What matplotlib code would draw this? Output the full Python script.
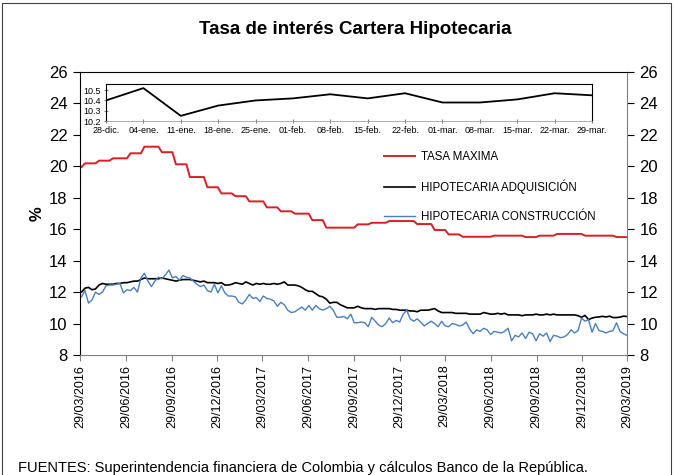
import matplotlib.pyplot as plt
import matplotlib.dates as mdates
import pandas as pd
from matplotlib.patches import Rectangle

# Weekly series (Fridays), 01/04/2016 .. 29/03/2019
tasa_maxima = [
    19.95, 20.19, 20.19, 20.19, 20.19, 20.36, 20.36, 20.36, 20.36, 20.51, 20.51, 20.51, 20.51,
    20.51, 20.83, 20.83, 20.83, 20.83, 21.25, 21.25, 21.25, 21.25, 21.25, 20.90, 20.90, 20.90,
    20.90, 20.13, 20.13, 20.13, 20.13, 19.32, 19.32, 19.32, 19.32, 19.32, 18.67, 18.67, 18.67,
    18.67, 18.28, 18.28, 18.28, 18.28, 18.10, 18.10, 18.10, 18.10, 17.77, 17.77, 17.77, 17.77,
    17.77, 17.39, 17.39, 17.39, 17.39, 17.14, 17.14, 17.14, 17.14, 16.99, 16.99, 16.99, 16.99,
    16.99, 16.58, 16.58, 16.58, 16.58, 16.10, 16.10, 16.10, 16.10, 16.10, 16.10, 16.10, 16.10,
    16.10, 16.31, 16.31, 16.31, 16.31, 16.41, 16.41, 16.41, 16.41, 16.41, 16.52, 16.52, 16.52,
    16.52, 16.52, 16.52, 16.52, 16.52, 16.33, 16.33, 16.33, 16.33, 16.33, 15.95, 15.95, 15.95,
    15.95, 15.67, 15.67, 15.67, 15.67, 15.52, 15.52, 15.52, 15.52, 15.52, 15.52, 15.52, 15.52,
    15.52, 15.59, 15.59, 15.59, 15.59, 15.59, 15.59, 15.59, 15.59, 15.59, 15.50, 15.50, 15.50,
    15.50, 15.59, 15.59, 15.59, 15.59, 15.59, 15.70, 15.70, 15.70, 15.70, 15.70, 15.70, 15.70,
    15.70, 15.59, 15.59, 15.59, 15.59, 15.59, 15.59, 15.59, 15.59, 15.59, 15.50, 15.50, 15.50,
    15.50,
]

hipotecaria_adquisicion = [
    12.00, 12.25, 12.30, 12.15, 12.20, 12.45, 12.55, 12.50, 12.50, 12.50, 12.55, 12.55, 12.60,
    12.60, 12.65, 12.70, 12.70, 12.80, 12.90, 12.85, 12.85, 12.85, 12.85, 12.90, 12.85, 12.80,
    12.75, 12.70, 12.75, 12.80, 12.80, 12.80, 12.75, 12.70, 12.65, 12.70, 12.60, 12.60, 12.60,
    12.55, 12.60, 12.45, 12.45, 12.50, 12.60, 12.55, 12.50, 12.65, 12.55, 12.45, 12.55, 12.50,
    12.55, 12.50, 12.50, 12.55, 12.50, 12.55, 12.65, 12.45, 12.45, 12.45, 12.40, 12.30, 12.15,
    12.05, 12.05, 11.90, 11.75, 11.70, 11.55, 11.30, 11.35, 11.35, 11.20, 11.10, 11.00, 11.00,
    11.00, 11.10, 11.00, 10.95, 10.95, 10.95, 10.90, 10.95, 10.95, 10.95, 10.95, 10.90, 10.90,
    10.85, 10.85, 10.85, 10.80, 10.80, 10.75, 10.85, 10.85, 10.85, 10.90, 10.95, 10.80, 10.70,
    10.70, 10.70, 10.70, 10.65, 10.65, 10.65, 10.65, 10.60, 10.60, 10.60, 10.60, 10.70, 10.65,
    10.60, 10.60, 10.65, 10.60, 10.65, 10.55, 10.55, 10.55, 10.55, 10.50, 10.55, 10.55, 10.55,
    10.60, 10.55, 10.55, 10.60, 10.55, 10.60, 10.55, 10.55, 10.55, 10.55, 10.55, 10.55, 10.50,
    10.40, 10.52, 10.25, 10.35, 10.40, 10.42, 10.46, 10.42, 10.47, 10.38, 10.38, 10.41, 10.47,
    10.45,
]

hipotecaria_construccion = [
    11.70, 12.10, 11.30, 11.50, 12.00, 11.85, 12.00, 12.40, 12.45, 12.45, 12.50, 12.55, 11.95,
    12.15, 12.10, 12.30, 12.00, 12.90, 13.20, 12.70, 12.35, 12.70, 12.95, 12.85, 13.10, 13.40,
    12.90, 13.00, 12.75, 13.05, 12.95, 12.90, 12.70, 12.50, 12.35, 12.45, 12.10, 12.00, 12.50,
    11.95, 12.40, 11.95, 11.75, 11.75, 11.70, 11.35, 11.25, 11.50, 11.85, 11.60, 11.65, 11.40,
    11.75, 11.60, 11.55, 11.45, 11.10, 11.35, 11.20, 10.85, 10.70, 10.75, 10.90, 11.05, 10.85,
    11.15, 10.85, 11.15, 10.95, 10.85, 10.95, 11.10, 10.85, 10.40, 10.40, 10.45, 10.30, 10.60,
    10.05, 10.05, 10.10, 10.05, 9.80, 10.40, 10.15, 9.90, 9.80, 10.00, 10.35, 10.05, 10.20,
    10.10, 10.60, 10.85, 10.30, 10.15, 10.30, 10.10, 9.85, 10.00, 10.15, 10.00, 9.80, 10.15,
    9.85, 9.80, 10.00, 9.95, 9.85, 9.90, 10.10, 9.65, 9.35, 9.60, 9.50, 9.70, 9.60,
    9.30, 9.50, 9.45, 9.40, 9.50, 9.70, 8.90, 9.25, 9.15, 9.40, 9.05, 9.45, 9.35,
    8.90, 9.35, 9.20, 9.40, 8.85, 9.25, 9.20, 9.10, 9.15, 9.30, 9.60, 9.40, 9.55,
    10.35, 10.15, 10.25, 9.45, 10.00, 9.55, 9.50, 9.40, 9.50, 9.55, 10.05, 9.50, 9.35,
    9.25,
]

# Zoomed view of the last weeks (adquisición)
inset_labels = ["28-dic.", "04-ene.", "11-ene.", "18-ene.", "25-ene.", "01-feb.", "08-feb.",
                "15-feb.", "22-feb.", "01-mar.", "08-mar.", "15-mar.", "22-mar.", "29-mar."]
inset_values = [10.40, 10.52, 10.25, 10.35, 10.40, 10.42, 10.46,
                10.42, 10.47, 10.38, 10.38, 10.41, 10.47, 10.45]

tick_dates = ["2016-03-29", "2016-06-29", "2016-09-29", "2016-12-29",
              "2017-03-29", "2017-06-29", "2017-09-29", "2017-12-29",
              "2018-03-29", "2018-06-29", "2018-09-29", "2018-12-29", "2019-03-29"]

dates = pd.date_range(end="2019-03-29", periods=len(tasa_maxima), freq="7D")
ticks = pd.to_datetime(tick_dates)

plt.rcParams['font.family'] = ['Liberation Sans', 'DejaVu Sans']

fig = plt.figure(figsize=(6.76, 4.75), dpi=100)
ax = fig.add_axes([80 / 676, 1 - 355 / 475, 547 / 676, 283 / 475])

ax.plot(dates, tasa_maxima, color="#dc1e24", lw=1.4, label="TASA MAXIMA")
ax.plot(dates, hipotecaria_adquisicion, color="black", lw=1.2, label="HIPOTECARIA ADQUISICIÓN")
ax.plot(dates, hipotecaria_construccion, color="#4a7ebf", lw=1.0, label="HIPOTECARIA CONSTRUCCIÓN")

ax.set_xlim(ticks[0], ticks[-1])
ax.set_ylim(8, 26)
ax.set_yticks(range(8, 27, 2))
ax.set_xticks(ticks)
ax.xaxis.set_major_formatter(mdates.DateFormatter("%d/%m/%Y"))
ax.tick_params(axis="x", labelrotation=90, labelsize=9, length=4, pad=3, color="#808080")
ax.tick_params(axis="y", labelsize=12, length=5, pad=4, right=True, labelright=True)

for side in ["right", "bottom"]:
    ax.spines[side].set_color("#808080")
ax.set_ylabel("%", fontsize=12, fontweight="bold", labelpad=3)

# Legend, no frame, placed under the inset
ax.legend(loc="upper left", bbox_to_anchor=(384 / 676, 1 - 151 / 475),
          bbox_transform=fig.transFigure, frameon=False, fontsize=8.3,
          handlelength=2.7, handletextpad=0.5, labelspacing=1.45,
          borderpad=0, borderaxespad=0)

fig.text(355 / 676, 1 - 30 / 475, "Tasa de interés Cartera Hipotecaria", ha="center", va="center",
         fontsize=13.5, fontweight="bold")

# Inset box
axi = fig.add_axes([106 / 676, 1 - 121 / 475, 486 / 676, 37 / 475])
axi.plot(range(len(inset_values)), inset_values, color="black", lw=1.3)
axi.set_xlim(0, len(inset_values) - 1)
axi.set_ylim(10.2, 10.56)
axi.set_yticks([10.2, 10.3, 10.4, 10.5])
axi.set_xticks(range(len(inset_labels)))
axi.set_xticklabels(inset_labels)
axi.tick_params(axis="x", labelsize=6.5, length=3, direction="inout", color="#808080", pad=2)
axi.tick_params(axis="y", labelsize=6.5, length=3, direction="inout", color="#808080", pad=2)
axi.spines["bottom"].set_color("#a0a0a0")
axi.spines["bottom"].set_linewidth(0.6)

fig.text(18 / 676, 1 - 468 / 475,
         "FUENTES: Superintendencia financiera de Colombia y cálculos Banco de la República.",
         ha="left", va="center", fontsize=10.5)

# Chart area frame
fig.patches.append(Rectangle((2 / 676, -0.1), 669 / 676, 1.1 - 3 / 475, transform=fig.transFigure,
                             fill=False, edgecolor="#404040", lw=0.8))

plt.savefig("out.png", dpi=100)
